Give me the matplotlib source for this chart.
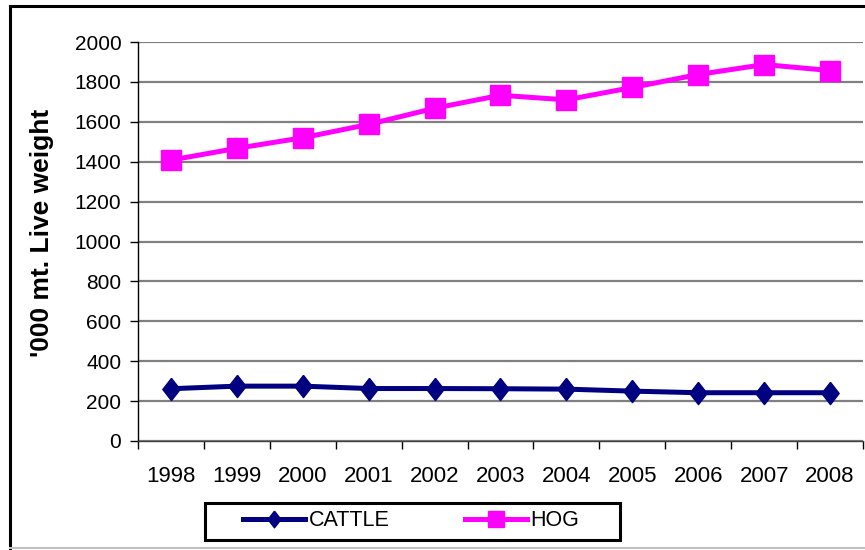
import matplotlib.pyplot as plt
from matplotlib.lines import Line2D
from matplotlib.patches import Rectangle
import numpy as np

plt.rcParams["font.family"] = ["Liberation Sans", "DejaVu Sans"]

years = ["1998", "1999", "2000", "2001", "2002", "2003", "2004", "2005", "2006", "2007", "2008"]
cattle = [262, 275, 275, 263, 263, 262, 260, 250, 242, 242, 242]
hog = [1408, 1467, 1520, 1587, 1668, 1733, 1710, 1772, 1837, 1887, 1857]
yticks = [0, 200, 400, 600, 800, 1000, 1200, 1400, 1600, 1800, 2000]

W, H = 865, 550
fig = plt.figure(figsize=(W / 100, H / 100), dpi=100)
ax = fig.add_axes([138 / W, 1 - 441 / H, 725 / W, 399 / H])

diamond = [(0, 1), (0.78, 0), (0, -1), (-0.78, 0), (0, 1)]
x = np.arange(len(years))
ax.plot(x, cattle, color="#000080", lw=3.6, marker=diamond, ms=16, label="CATTLE", zorder=3)
ax.plot(x, hog, color="#FF00FF", lw=3.6, marker="s", ms=14.5, label="HOG", zorder=3)

ax.set_xlim(-0.5, len(years) - 0.5)
ax.set_ylim(0, 2000)
ax.set_yticks(yticks)
ax.set_xticks(x)
ax.set_xticklabels(years)
ax.set_xticks(np.arange(-0.5, len(years)), minor=True)
ax.tick_params(axis="x", which="major", length=0, pad=18, labelsize=16)
ax.tick_params(axis="x", which="minor", length=6, width=1, direction="out")
ax.tick_params(axis="y", length=6, width=1, direction="out", labelsize=15, pad=6)
ax.yaxis.grid(True, color="#808080", lw=1.6)
ax.set_axisbelow(True)
for s in ["top", "right"]:
    ax.spines[s].set_visible(False)
ax.spines["left"].set_linewidth(1)
ax.spines["bottom"].set_linewidth(1)
ax.spines["bottom"].set_color("#404040")

fig.text(42 / W, 1 - 233 / H, "'000 mt. Live weight", rotation=90, ha="center", va="center",
         fontsize=19, fontweight="bold")

# legend: frame drawn separately, entries placed inside it
fig.add_artist(Rectangle((205 / W, 1 - 540 / H), 415 / W, 37 / H, transform=fig.transFigure,
                         fill=False, edgecolor="black", lw=2.2))
leg = fig.legend(loc="center left", bbox_to_anchor=(243 / W, 1 - 521 / H), ncol=2,
                 fontsize=15.5, frameon=False, handlelength=2.9, borderpad=0,
                 borderaxespad=0, handletextpad=0.15, columnspacing=3.5, markerscale=0.75)

# outer chart border
fig.add_artist(Line2D([9.5 / W, 1.0], [1 - 6 / H, 1 - 6 / H], transform=fig.transFigure, color="black", lw=2.2))
fig.add_artist(Line2D([9.5 / W, 9.5 / W], [1 - 548 / H, 1 - 6 / H], transform=fig.transFigure, color="black", lw=2.2))
fig.add_artist(Line2D([9.5 / W, 1.0], [1 - 548 / H, 1 - 548 / H], transform=fig.transFigure, color="#c0c0c0", lw=1.5))

fig.savefig("out.png", dpi=100)
